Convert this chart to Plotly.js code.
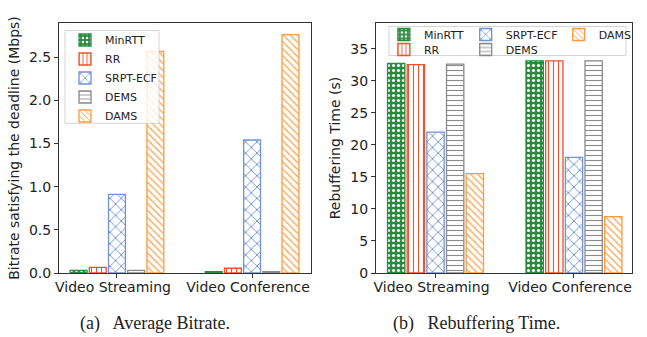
<!DOCTYPE html>
<html>
<head>
<meta charset="utf-8">
<script src="https://cdn.plot.ly/plotly-3.0.1.min.js"></script>
<style>html,body{margin:0;padding:0;background:#fff;}#chart{width:647px;height:337px;}</style>
</head>
<body>
<div id="chart"></div>
<script>
const categories = ["Video Streaming", "Video Conference"];
const schemes = ["MinRTT", "RR", "SRPT-ECF", "DEMS", "DAMS"];
const bitrateMinRTT = [0.03, 0.015];
const bitrateRR = [0.065, 0.055];
const bitrateSRPT = [0.91, 1.54];
const bitrateDEMS = [0.03, 0.015];
const bitrateDAMS = [2.565, 2.76];
const rebufMinRTT = [32.7, 33.1];
const rebufRR = [32.5, 33.1];
const rebufSRPT = [21.97, 18.04];
const rebufDEMS = [32.6, 33.1];
const rebufDAMS = [15.5, 8.8];

const colors = ["#2a8a3e", "#f0502a", "#7093d4", "#8a8a8a", "#ff9a3c"];
const shapes = [".", "|", "x", "-", "\\"];
const bitrate = [bitrateMinRTT, bitrateRR, bitrateSRPT, bitrateDEMS, bitrateDAMS];
const rebuf = [rebufMinRTT, rebufRR, rebufSRPT, rebufDEMS, rebufDAMS];
// right-hand legend: 3 columns (column-major as in matplotlib)
const rightLegendX = [0.567, 0.567, 0.7098, 0.7098, 0.872];
const rightLegendY = [1.012, 0.952, 1.012, 0.952, 1.012];

function marker(i) {
  const isMin = i === 0;
  return {
    color: colors[i],
    line: {color: colors[i], width: 1.3},
    pattern: {
      shape: shapes[i],
      fillmode: "replace",
      fgcolor: isMin ? "#ffffff" : colors[i],
      bgcolor: isMin ? colors[i] : "#ffffff",
      size: isMin ? 5 : (i === 2 ? 8 : 5),
      solidity: isMin ? 0.3 : 0.22
    }
  };
}

const traces = [];
schemes.forEach((name, i) => {
  traces.push({type: "bar", name: name, x: categories, y: bitrate[i],
    xaxis: "x", yaxis: "y", marker: marker(i), legend: "legend",
    legendgroup: "a" + i, hoverinfo: "skip"});
});
schemes.forEach((name, i) => {
  traces.push({type: "bar", name: name, x: categories, y: rebuf[i],
    xaxis: "x2", yaxis: "y2", marker: marker(i), legend: "legend" + (i + 2),
    legendgroup: "b" + i, hoverinfo: "skip"});
});

const tickFont = {family: "DejaVu Sans", size: 14, color: "#222"};
const titleFont = {family: "DejaVu Sans", size: 14, color: "#222"};
const legendFont = {family: "DejaVu Sans", size: 11, color: "#222"};
const axisCommon = {showline: true, mirror: true, linecolor: "#333", linewidth: 1,
  ticks: "outside", ticklen: 4, tickcolor: "#333", showgrid: false, zeroline: false,
  tickfont: tickFont};

const layout = {
  width: 647, height: 337,
  margin: {l: 59, r: 15, t: 22.5, b: 64, autoexpand: false},
  paper_bgcolor: "#fff", plot_bgcolor: "#fff",
  barmode: "group", bargap: 0.29, bargroupgap: 0.12,
  font: {family: "DejaVu Sans", color: "#222"},
  showlegend: true,
  xaxis: Object.assign({}, axisCommon, {domain: [0, 0.4398], type: "category",
    range: [-0.429, 1.436], ticklabelshift: -4, ticklabelstandoff: -3}),
  yaxis: Object.assign({}, axisCommon, {range: [0, 2.895], dtick: 0.5, tickformat: ".1f",
    title: {text: "Bitrate satisfying the deadline (Mbps)", font: titleFont, standoff: 6}}),
  xaxis2: Object.assign({}, axisCommon, {domain: [0.5532, 1], type: "category",
    range: [-0.430, 1.419], anchor: "y2", ticklabelshift: -4, ticklabelstandoff: -3}),
  yaxis2: Object.assign({}, axisCommon, {range: [0, 39.0], dtick: 5, anchor: "x2",
    title: {text: "Rebuffering Time (s)", font: titleFont, standoff: 6}}),
  legend: {x: 0.0105, y: 0.99, xanchor: "left", yanchor: "top",
    bgcolor: "rgba(0,0,0,0)", borderwidth: 0, font: legendFont, tracegroupgap: 0},
  shapes: [
    {type: "rect", xref: "paper", yref: "paper", x0: 0.0105, x1: 0.1745, y0: 0.599, y1: 0.970,
      line: {color: "#d4d4d4", width: 1}, fillcolor: "rgba(255,255,255,0.8)", layer: "above"},
    {type: "rect", xref: "paper", yref: "paper", x0: 0.5759, x1: 0.9895, y0: 0.870, y1: 0.986,
      line: {color: "#d4d4d4", width: 1}, fillcolor: "rgba(255,255,255,0.8)", layer: "above"}
  ],
  annotations: [
    {text: "(a)\u2002 Average Bitrate.", xref: "paper", yref: "paper", x: 0.1675, y: -0.15,
      showarrow: false, xanchor: "center", yanchor: "top",
      font: {family: "Liberation Serif", size: 18, color: "#222"}},
    {text: "(b)\u2002 Rebuffering Time.", xref: "paper", yref: "paper", x: 0.728, y: -0.15,
      showarrow: false, xanchor: "center", yanchor: "top",
      font: {family: "Liberation Serif", size: 18, color: "#222"}}
  ]
};
for (let i = 0; i < 5; i++) {
  layout["legend" + (i + 2)] = {x: rightLegendX[i], y: rightLegendY[i], xanchor: "left", yanchor: "top",
    bgcolor: "rgba(0,0,0,0)", borderwidth: 0, font: legendFont};
}

Plotly.newPlot("chart", traces, layout, {staticPlot: true, displayModeBar: false});
</script>
</body>
</html>
